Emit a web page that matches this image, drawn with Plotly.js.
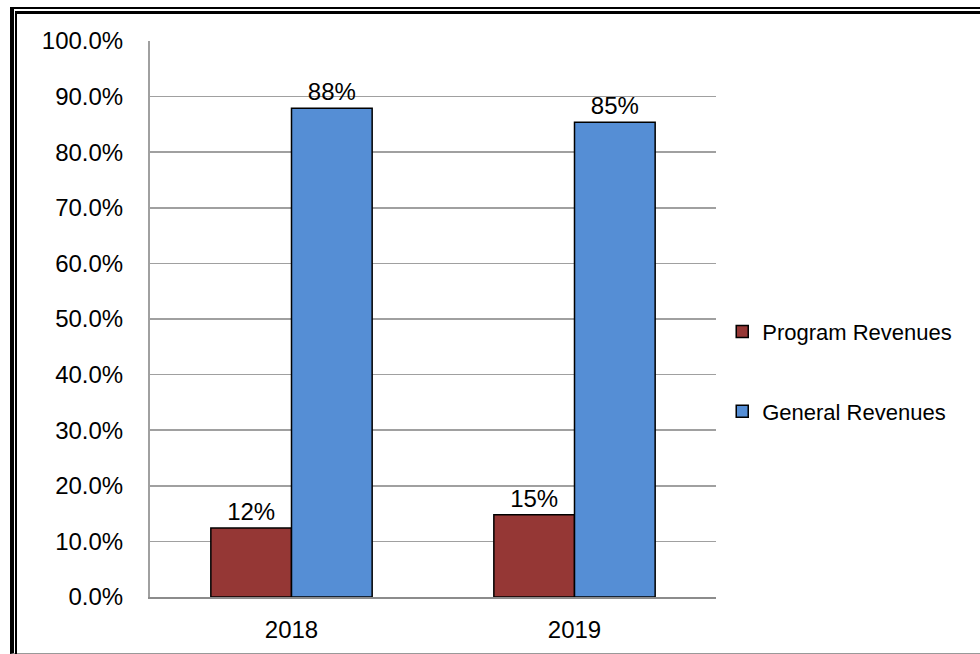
<!DOCTYPE html>
<html>
<head>
<meta charset="utf-8">
<script src="https://cdn.plot.ly/plotly-3.0.1.min.js"></script>
<style>
  html, body { margin: 0; padding: 0; background: #fff; }
  #wrap { position: relative; width: 980px; height: 654px; overflow: hidden; }
  #chart { position: absolute; left: 0; top: 0; width: 980px; height: 654px; }
  #frameOuter { position: absolute; left: 10px; top: 7px; right: -10px; bottom: 0px;
    border-left: 4px solid #000; border-top: 2px solid #000; border-bottom: 1px solid #999; pointer-events: none; }
  #frameInner { position: absolute; left: 15px; top: 11px; right: -10px; bottom: -10px;
    border-left: 2px solid #000; border-top: 3px solid #000; pointer-events: none; }
</style>
</head>
<body>
<div id="wrap">
  <div id="chart"></div>
  <div id="frameOuter"></div>
  <div id="frameInner"></div>
</div>
<script>
const categories = ['2018', '2019'];
const programRevenues = [0.124, 0.148];
const generalRevenues = [0.879, 0.854];
const seriesNames = ['Program Revenues', 'General Revenues'];

const font = 'Liberation Sans, Arial, sans-serif';

const traces = [
  {
    type: 'bar', name: seriesNames[0], x: categories, y: programRevenues,
    legendgroup: 'a',
    marker: { color: '#953735', line: { color: '#000', width: 1.5 } },
    texttemplate: '%{y:.0%}', textposition: 'outside', cliponaxis: false,
    textfont: { family: font, size: 24, color: '#000' }
  },
  {
    type: 'bar', name: seriesNames[1], x: categories, y: generalRevenues,
    legendgroup: 'b',
    marker: { color: '#558ED5', line: { color: '#000', width: 1.5 } },
    texttemplate: '%{y:.0%}', textposition: 'outside', cliponaxis: false,
    textfont: { family: font, size: 24, color: '#000' }
  }
];

const layout = {
  width: 980, height: 654,
  margin: { l: 150, r: 264, t: 41, b: 57 },
  paper_bgcolor: '#fff', plot_bgcolor: '#fff',
  font: { family: font, size: 24, color: '#000' },
  barmode: 'group', bargap: 0.43, bargroupgap: 0,
  showlegend: true,
  legend: {
    x: 1.011, xanchor: 'left', y: 0.405, yanchor: 'middle',
    font: { family: font, size: 22, color: '#000' },
    tracegroupgap: 48, bgcolor: 'rgba(0,0,0,0)'
  },
  xaxis: {
    type: 'category', showgrid: false, showline: true, linecolor: '#8c8c8c', linewidth: 2,
    ticks: '', ticklabelstandoff: 10,
    tickfont: { family: font, size: 24, color: '#000' }
  },
  yaxis: {
    range: [0, 1], dtick: 0.1, tick0: 0, tickformat: '.1%',
    showgrid: true, gridcolor: '#a0a0a0', gridwidth: 1.5,
    showline: true, linecolor: '#a0a0a0', linewidth: 2, zeroline: false,
    ticks: '', ticklabelstandoff: 20,
    tickfont: { family: font, size: 24, color: '#000' }
  }
};

Plotly.newPlot('chart', traces, layout, { displayModeBar: false, staticPlot: true });
</script>
</body>
</html>
